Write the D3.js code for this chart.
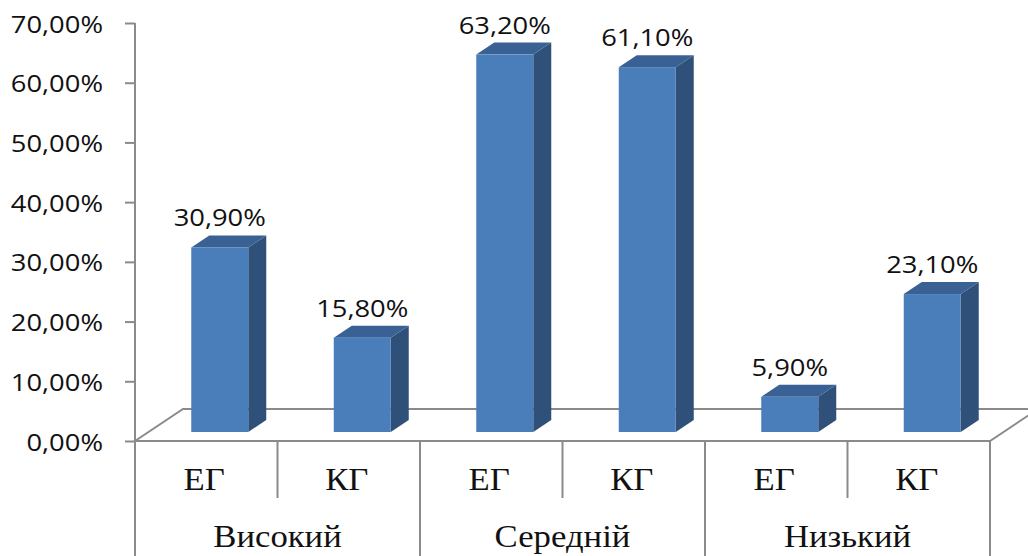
<!DOCTYPE html>
<html>
<head>
<meta charset="utf-8">
<script src="https://cdn.jsdelivr.net/npm/d3@7"></script>
<style>
    body {margin: 0; background: #fff;}
    svg {display: block;}
</style>
</head>
<body>
<div id="chart"></div>
<script>
// дані
const groups = ["Високий", "Середній", "Низький"];
const subgroups = ["ЕГ", "КГ"];
const values = [30.9, 15.8, 63.2, 61.1, 5.9, 23.1];
const yTicks = [0, 10, 20, 30, 40, 50, 60, 70];

const width = 1028, height = 556;
const left = 135, right = 990, floorY = 441, topY = 23;
const depth = {x: 48, y: -32};      // глибина підлоги
const barOff = {x: 13.5, y: -9};    // зсув передньої грані стовпця
const barDepth = {x: 18, y: -12};   // глибина стовпця
const lineColor = "#8a8a8a";

let svg = d3.select("#chart").append("svg")
    .attr("width", width)
    .attr("height", height);

let ids = values.map((v, i) => i);
let x = d3.scaleBand().domain(ids).range([left, right]).paddingInner(0.6).paddingOuter(0.3);
let slot = d3.scaleBand().domain(ids).range([left, right]);
let y = d3.scaleLinear().domain([0, 70]).range([floorY, topY]);

// підлога
let floor = svg.append("g")
    .attr("fill", "none")
    .attr("stroke", lineColor)
    .attr("stroke-width", 2);
floor.append("path")
    .attr("d", "M" + left + "," + floorY +
        "L" + (left + depth.x) + "," + (floorY + depth.y) +
        "L" + (right + depth.x) + "," + (floorY + depth.y) +
        "L" + right + "," + floorY + "Z");

// стовпці
let bars = svg.append("g").selectAll("g").data(values).enter().append("g");
bars.each(function (v, i) {
    let g = d3.select(this);
    let x0 = x(i) + barOff.x, x1 = x0 + x.bandwidth();
    let yb = y(0) + barOff.y, yt = y(v) + barOff.y;
    g.append("polygon")
        .attr("points", [[x1, yb], [x1 + barDepth.x, yb + barDepth.y], [x1 + barDepth.x, yt + barDepth.y], [x1, yt]].join(" "))
        .attr("fill", "#2f5079");
    g.append("polygon")
        .attr("points", [[x0, yt], [x0 + barDepth.x, yt + barDepth.y], [x1 + barDepth.x, yt + barDepth.y], [x1, yt]].join(" "))
        .attr("fill", "#3a6194");
    g.append("rect")
        .attr("x", x0)
        .attr("y", yt)
        .attr("width", x.bandwidth())
        .attr("height", yb - yt)
        .attr("fill", "#4a7ebb");
    g.append("text")
        .attr("transform", "translate(" + (x0 + x.bandwidth() / 2) + "," + (yt + barDepth.y - 9) + ") scale(1.14,1)")
        .attr("text-anchor", "middle")
        .attr("font-family", "'Open Sans', sans-serif")
        .attr("font-size", 24)
        .attr("fill", "#111")
        .text(v.toFixed(2).replace(".", ",") + "%");
});

// вісь Y
let yAxis = svg.append("g")
    .attr("transform", "translate(" + left + ",0)")
    .call(d3.axisLeft(y).tickValues(yTicks).tickSize(10).tickPadding(0)
        .tickFormat(d => d.toFixed(2).replace(".", ",") + "%"));
yAxis.select(".domain").remove();
yAxis.selectAll(".tick line").attr("stroke", lineColor).attr("stroke-width", 2);
yAxis.selectAll(".tick text").remove();
yAxis.selectAll(".tick").append("text")
    .attr("transform", "translate(-32,9) scale(1.14,1)")
    .attr("text-anchor", "end")
    .attr("font-family", "'Open Sans', sans-serif")
    .attr("font-size", 24)
    .attr("fill", "#111")
    .text(d => d.toFixed(2).replace(".", ",") + "%");

let axisLines = svg.append("g")
    .attr("stroke", lineColor)
    .attr("stroke-width", 2);
axisLines.append("line")
    .attr("x1", left).attr("x2", left)
    .attr("y1", topY).attr("y2", height);
axisLines.append("line")
    .attr("x1", left).attr("x2", right)
    .attr("y1", floorY).attr("y2", floorY);

// вісь X: підписи та розділювачі
ids.forEach(i => {
    let xr = slot(i) + slot.bandwidth();
    axisLines.append("line")
        .attr("x1", xr).attr("x2", xr)
        .attr("y1", floorY)
        .attr("y2", i % 2 === 0 ? 498 : height);
    svg.append("text")
        .attr("transform", "translate(" + (slot(i) + slot.bandwidth() / 2 - 2) + ",490) scale(1.12,1)")
        .attr("text-anchor", "middle")
        .attr("font-family", "'Liberation Serif', 'Times New Roman', serif")
        .attr("font-size", 31)
        .attr("fill", "#111")
        .text(subgroups[i % 2]);
});
groups.forEach((gName, k) => {
    svg.append("text")
        .attr("transform", "translate(" + (slot(k * 2) + slot.bandwidth()) + ",547) scale(1.12,1)")
        .attr("text-anchor", "middle")
        .attr("font-family", "'Liberation Serif', 'Times New Roman', serif")
        .attr("font-size", 31)
        .attr("fill", "#111")
        .text(gName);
});
</script>
</body>
</html>
